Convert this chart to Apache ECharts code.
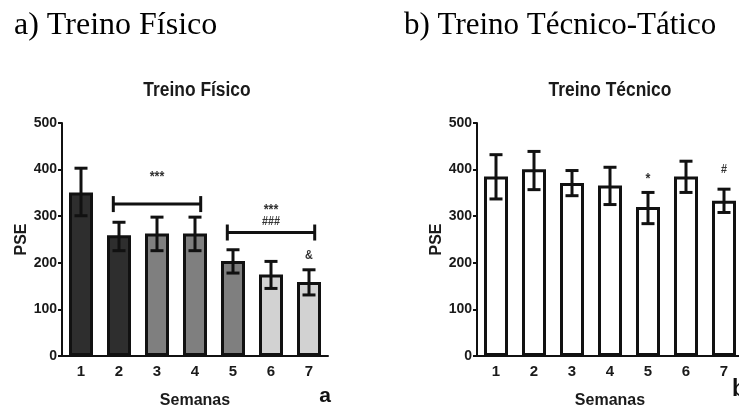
<!DOCTYPE html>
<html>
<head>
<meta charset="utf-8">
<script src="https://cdn.jsdelivr.net/npm/echarts@6/dist/echarts.min.js"></script>
<style>
  html, body { margin: 0; padding: 0; background: #fff; }
  #chart { width: 739px; height: 409px; }
</style>
</head>
<body>
<div id="chart"></div>
<script>
// semanas (eixo x)
var weeks = ['1', '2', '3', '4', '5', '6', '7'];
var yTicks = [0, 100, 200, 300, 400, 500];

// a) Treino Físico - média e barras de erro
var fisicoMean = [351, 259, 263, 263, 204, 175, 159];
var fisicoLow = [301, 226, 226, 226, 178, 145, 131];
var fisicoHigh = [403, 287, 298, 298, 228, 203, 185];
// [semana ini, semana fim, altura]
var fisicoBrackets = [[1, 3, 326], [4, 6, 265]];
// [semana, altura, texto]
var fisicoMarks = [[2, 390, '***'], [5, 320, '***'], [5, 288, '###'], [6, 215, '&']];

// b) Treino Técnico-Tático
var tecnicoMean = [385, 401, 371, 366, 320, 385, 333];
var tecnicoLow = [337, 357, 344, 325, 284, 351, 308];
var tecnicoHigh = [432, 439, 398, 405, 351, 418, 358];
var tecnicoMarks = [[4, 385, '*'], [6, 399, '#']];

var FONT = '"Liberation Sans Narrow", "Arial Narrow", Arial, sans-serif';
var SERIF = '"Liberation Serif", "Times New Roman", serif';
var fisicoColors = ['#2e2e2e', '#2e2e2e', '#7f7f7f', '#7f7f7f', '#7f7f7f', '#d2d2d2', '#d2d2d2'];

var chart = echarts.init(document.getElementById('chart'));

function makeX(idx) {
	return {
		type: 'category',
		gridIndex: idx,
		data: weeks,
		name: 'Semanas',
		nameLocation: 'middle',
		nameGap: 37,
		nameTextStyle: { fontFamily: FONT, fontWeight: 'bold', fontSize: 16, color: '#1a1a1a' },
		axisLine: { lineStyle: { color: '#111', width: 2 } },
		axisTick: { alignWithLabel: true, length: 5, lineStyle: { color: '#111', width: 2 } },
		axisLabel: { fontFamily: FONT, fontWeight: 'bold', fontSize: 15, color: '#1a1a1a', margin: 8 },
		splitLine: { show: false }
	};
}

function makeY(idx, gap) {
	return {
		type: 'value',
		gridIndex: idx,
		min: 0,
		max: 500,
		interval: 100,
		name: 'PSE',
		nameLocation: 'middle',
		nameGap: gap,
		nameTextStyle: { fontFamily: FONT, fontWeight: 'bold', fontSize: 16, color: '#1a1a1a' },
		axisLine: { show: true, lineStyle: { color: '#111', width: 2 } },
		axisTick: { show: true, length: 4, lineStyle: { color: '#111', width: 2 } },
		axisLabel: {
			fontFamily: FONT, fontWeight: 'bold', fontSize: 14, color: '#1a1a1a', margin: 5,
			formatter: function (v) { return yTicks.indexOf(v) >= 0 ? String(v) : ''; }
		},
		splitLine: { show: false }
	};
}

// barras de erro
function errorSeries(idx, low, high) {
	return {
		type: 'custom',
		xAxisIndex: idx,
		yAxisIndex: idx,
		z: 5,
		data: weeks.map(function (w, i) { return [i, low[i], high[i]]; }),
		encode: { x: 0, y: [1, 2] },
		renderItem: function (params, api) {
			var lo = api.coord([api.value(0), api.value(1)]);
			var hi = api.coord([api.value(0), api.value(2)]);
			var half = 6.5;
			var st = { stroke: '#111', lineWidth: 3 };
			return {
				type: 'group',
				children: [
					{ type: 'line', shape: { x1: lo[0], y1: lo[1], x2: hi[0], y2: hi[1] }, style: st },
					{ type: 'line', shape: { x1: lo[0] - half, y1: lo[1], x2: lo[0] + half, y2: lo[1] }, style: st },
					{ type: 'line', shape: { x1: hi[0] - half, y1: hi[1], x2: hi[0] + half, y2: hi[1] }, style: st }
				]
			};
		}
	};
}

// textos de significância
function markSeries(idx, marks) {
	return {
		type: 'custom',
		xAxisIndex: idx,
		yAxisIndex: idx,
		z: 6,
		data: marks.map(function (m) { return [m[0], m[1]]; }),
		renderItem: function (params, api) {
			var p = api.coord([api.value(0), api.value(1)]);
			var txt = marks[params.dataIndex][2];
			var star = txt.indexOf('*') >= 0;
			return {
				type: 'text',
				x: p[0],
				y: p[1] + (star ? 3 : 0),
				scaleX: 0.9,
				style: {
					text: txt,
					align: 'center',
					verticalAlign: 'middle',
					font: 'bold ' + (star ? 14 : 12) + 'px ' + FONT,
					fill: '#333'
				}
			};
		}
	};
}

var option = {
	animation: false,
	backgroundColor: '#fff',
	title: [
		{ text: 'a) Treino Físico', left: 14, top: 10, padding: 0,
		  textStyle: { fontFamily: SERIF, fontWeight: 'normal', fontSize: 32, color: '#000' } },
		{ text: 'b) Treino Técnico-Tático', left: 404, top: 10, padding: 0,
		  textStyle: { fontFamily: SERIF, fontWeight: 'normal', fontSize: 31, color: '#000' } }
	],
	graphic: [
		{ type: 'text', x: 197, y: 90, scaleX: 0.87, style: { text: 'Treino Físico', align: 'center', verticalAlign: 'middle', font: 'bold 20px ' + FONT, fill: '#1a1a1a' } },
		{ type: 'text', x: 610, y: 90, scaleX: 0.87, style: { text: 'Treino Técnico', align: 'center', verticalAlign: 'middle', font: 'bold 20px ' + FONT, fill: '#1a1a1a' } },
		{ type: 'text', x: 325, y: 396, style: { text: 'a', align: 'center', verticalAlign: 'middle', font: 'bold 21px ' + FONT, fill: '#111' } },
		{ type: 'text', x: 732, y: 390, style: { text: 'b', align: 'left', verticalAlign: 'middle', font: 'bold 23px ' + FONT, fill: '#111' } }
	],
	grid: [
		{ left: 62, top: 123, width: 266, height: 233, outerBoundsMode: 'none' },
		{ left: 477, top: 123, width: 266, height: 233, outerBoundsMode: 'none' }
	],
	xAxis: [makeX(0), makeX(1)],
	yAxis: [makeY(0, 29), makeY(1, 32)],
	series: [
		{
			type: 'bar',
			xAxisIndex: 0,
			yAxisIndex: 0,
			barWidth: 24,
			data: fisicoMean.map(function (v, i) {
				return { value: v, itemStyle: { color: fisicoColors[i] } };
			}),
			itemStyle: { borderColor: '#111', borderWidth: 3 }
		},
		errorSeries(0, fisicoLow, fisicoHigh),
		{
			type: 'custom',
			xAxisIndex: 0,
			yAxisIndex: 0,
			z: 6,
			data: fisicoBrackets,
			encode: { x: [0, 1], y: 2 },
			renderItem: function (params, api) {
				var a = api.coord([api.value(0), api.value(2)]);
				var b = api.coord([api.value(1), api.value(2)]);
				var band = api.size([1, 0])[0];
				var x1 = a[0] - band * 0.15, x2 = b[0] + band * 0.15, y = a[1];
				var st = { stroke: '#111', lineWidth: 3 };
				return {
					type: 'group',
					children: [
						{ type: 'line', shape: { x1: x1, y1: y, x2: x2, y2: y }, style: st },
						{ type: 'line', shape: { x1: x1, y1: y - 8, x2: x1, y2: y + 8 }, style: st },
						{ type: 'line', shape: { x1: x2, y1: y - 8, x2: x2, y2: y + 8 }, style: st }
					]
				};
			}
		},
		markSeries(0, fisicoMarks),
		{
			type: 'bar',
			xAxisIndex: 1,
			yAxisIndex: 1,
			barWidth: 24,
			data: tecnicoMean,
			itemStyle: { color: '#fff', borderColor: '#111', borderWidth: 3 }
		},
		errorSeries(1, tecnicoLow, tecnicoHigh),
		markSeries(1, tecnicoMarks)
	]
};

chart.setOption(option);
</script>
</body>
</html>
